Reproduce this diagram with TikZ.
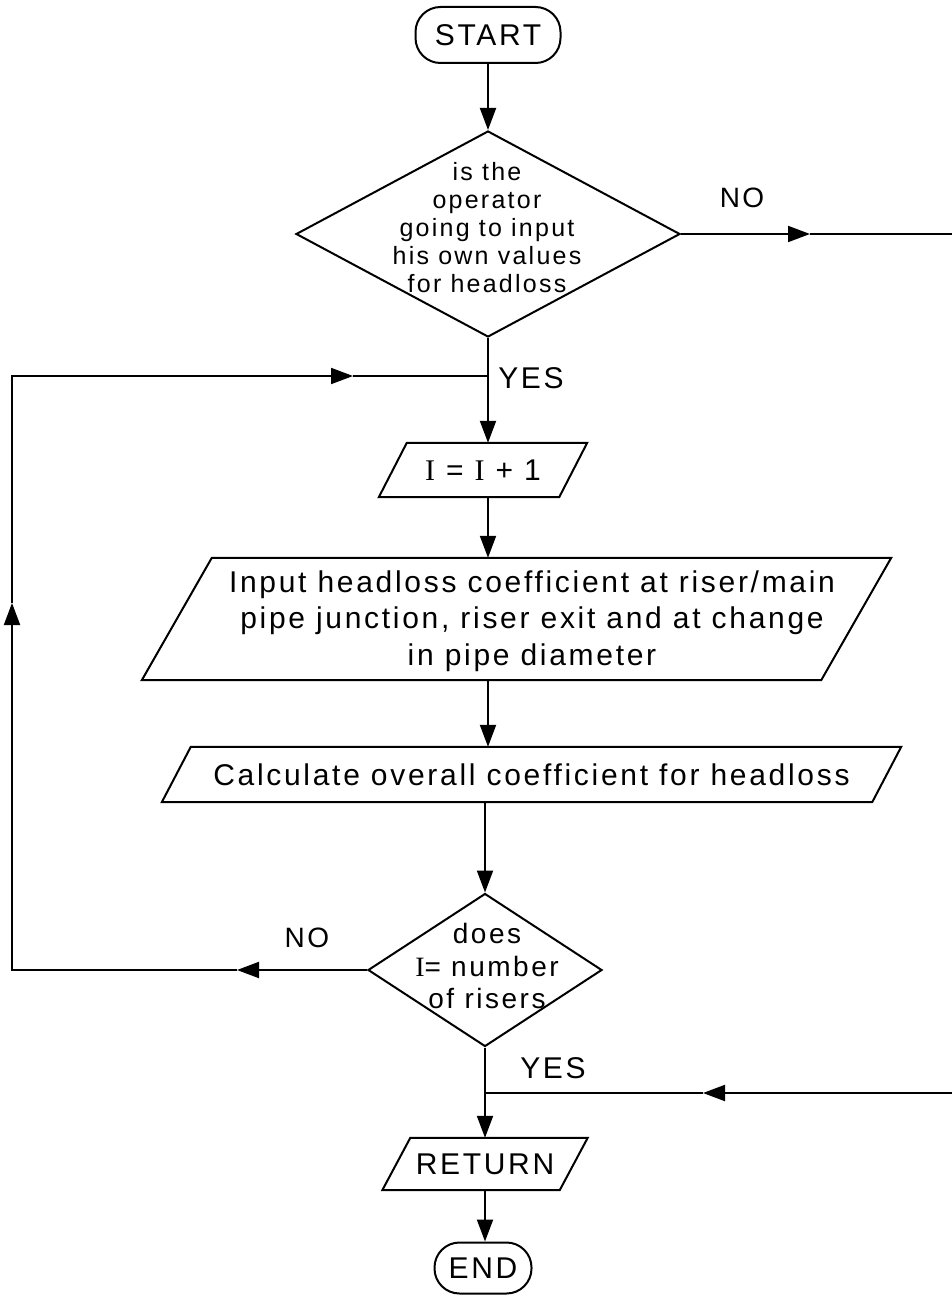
\documentclass[tikz,border=0pt]{standalone}
\usepackage{fontspec}
\setmainfont[LetterSpace=9]{Liberation Sans}
\newfontfamily\serifI{Liberation Serif}
\usetikzlibrary{shapes.geometric,arrows.meta,calc}

\tikzset{
  every node/.style={inner sep=0pt},
  link/.style={line width=2pt},
  flow/.style={line width=2pt, -{Triangle[length=22pt,width=16pt]}},
  terminal/.style={draw, line width=2pt, rectangle, rounded corners=25pt,
    font=\fontsize{30}{34}\selectfont},
  decision/.style={draw, line width=2pt, diamond},
  iobody/.style={rectangle, font=\fontsize{30}{36.5}\selectfont, align=center},
  txt/.style={font=\fontsize{30}{36.5}\selectfont, align=center},
  small/.style={font=\fontsize{25}{28}\selectfont, align=center},
  mid/.style={font=\fontsize{28}{32.5}\selectfont, align=center},
}

% outline of an input/output box: the named body, leaned to the right by #2
\newcommand\drawiobox[2]{%
  \draw[link] ($(#1.north west)+(#2/2,0)$) -- ($(#1.north east)+(#2/2,0)$)
    -- ($(#1.south east)-(#2/2,0)$) -- ($(#1.south west)-(#2/2,0)$) -- cycle;}

\begin{document}
\begin{tikzpicture}[x=1pt, y=-1pt]
\useasboundingbox (0,0) rectangle (952,1297);
\fill[white] (0,0) rectangle (952,1297);
\clip (0,0) rectangle (952,1297);

% shapes
\node[terminal, minimum width=145pt, minimum height=56pt] (start) at (488,35) {START};
\node[decision, minimum width=384pt, minimum height=206pt] (dec1) at (488,234) {};
\node[small] (dec1text) at (487,228)
  {is the\\operator\\going to input\\his own values\\for headloss};

\node[iobody, minimum width=180pt, minimum height=54pt] (inc) at (483,470)
  {{\serifI I} = {\serifI I} + 1};
\drawiobox{inc}{28}

\node[iobody, minimum width=679pt, minimum height=122pt] (input) at (516.5,619) {};
\drawiobox{input}{70}
\node[txt] (inputtext) at (532,621)
  {Input headloss coefficient at riser/main\\pipe junction, riser exit and at change\\in pipe diameter};

\node[iobody, minimum width=710pt, minimum height=55pt] (calc) at (531.5,774.5)
  {Calculate overall coefficient for headloss};
\drawiobox{calc}{29}

\node[decision, minimum width=234pt, minimum height=153pt] (dec2) at (485,970) {};
\node[mid] (dec2text) at (487,966) {does\\{\serifI I}= number\\of risers};

\node[iobody, minimum width=177pt, minimum height=52pt] (ret) at (485,1164) {RETURN};
\drawiobox{ret}{28}

\node[terminal, minimum width=97pt, minimum height=51pt] (end) at (483,1268) {END};

% branch labels
\node[font=\fontsize{28}{28}\selectfont] (no1) at (742,198) {NO};
\node[font=\fontsize{30}{30}\selectfont] (yes1) at (531,378) {YES};
\node[font=\fontsize{28}{28}\selectfont] (no2) at (307,938) {NO};
\node[font=\fontsize{30}{30}\selectfont] (yes2) at (553,1068) {YES};

% junctions, corners and arrow positions
\coordinate (loopin) at (488,376);
\coordinate (yesjoin) at (485,1093);
\coordinate (ntip) at (237,970);
\coordinate (sw) at (12,970);
\coordinate (uptip) at (12,603);
\coordinate (nw) at (12,376);
\coordinate (rtip) at (353,376);
\coordinate (etip) at (810,234);
\coordinate (ne) at (970,234);
\coordinate (se) at (970,1093);
\coordinate (btip) at (703,1093);

% main flow
\draw[flow] (start.south) -- (dec1.north);
\draw[link] (dec1.south) -- (loopin);
\draw[flow] (loopin) -- (loopin |- inc.north);
\draw[flow] (loopin |- inc.south) -- (loopin |- input.north);
\draw[flow] (loopin |- input.south) -- (loopin |- calc.north);
\draw[flow] (dec2.north |- calc.south) -- (dec2.north);
\draw[link] (dec2.south) -- (yesjoin);
\draw[flow] (yesjoin) -- (yesjoin |- ret.north);
\draw[flow] (yesjoin |- ret.south) -- (yesjoin |- end.north);

% loop back while more risers remain
\draw[flow] (dec2.west) -- (ntip);
\draw[flow] (ntip) -- (sw) -- (uptip);
\draw[flow] (uptip) -- (nw) -- (rtip);
\draw[link] (rtip) -- (loopin);

% no values from the operator: straight on to the return
\draw[flow] (dec1.east) -- (etip);
\draw[flow] (etip) -- (ne) -- (se) -- (btip);
\draw[link] (btip) -- (yesjoin);
\end{tikzpicture}
\end{document}
